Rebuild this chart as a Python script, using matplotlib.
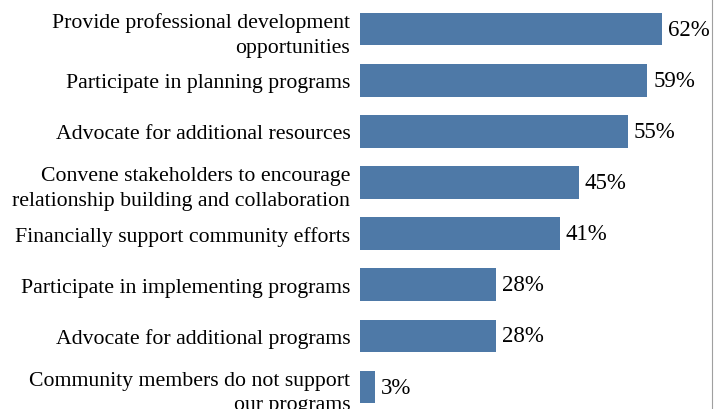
import matplotlib.pyplot as plt

categorias = [
    "Provide professional development\nopportunities",
    "Participate in planning programs",
    "Advocate for additional resources",
    "Convene stakeholders to encourage\nrelationship building and collaboration",
    "Financially support community efforts",
    "Participate in implementing programs",
    "Advocate for additional programs",
    "Community members do not support\nour programs",
]
percentuais = [62, 59, 55, 45, 41, 28, 28, 3]

plt.rcParams['font.family'] = ['Liberation Serif', 'DejaVu Serif']

fig = plt.figure(figsize=(7.17, 4.10), dpi=100)
ax = fig.add_axes([360 / 717, 0, (712 - 360) / 717, 1])

posicoes = list(range(len(categorias)))
ax.barh(posicoes, percentuais, height=0.64, color='#4e79a7')

for y, v in zip(posicoes, percentuais):
    ax.text(v + 1.2, y, f"{v}%", va='center', ha='left', fontsize=16.5)

ax.set_yticks(posicoes)
ax.set_yticklabels(categorias, fontsize=15.7, linespacing=1.4)
ax.tick_params(axis='y', length=0, pad=7)
ax.set_xticks([])
ax.set_xlim(0, (712 - 360) / 4.87)
ax.set_ylim(7.43, -0.587)

for lado in ['top', 'bottom', 'left']:
    ax.spines[lado].set_visible(False)
ax.spines['right'].set_color('#a0a0a0')

fig.savefig("out.png", dpi=100)
